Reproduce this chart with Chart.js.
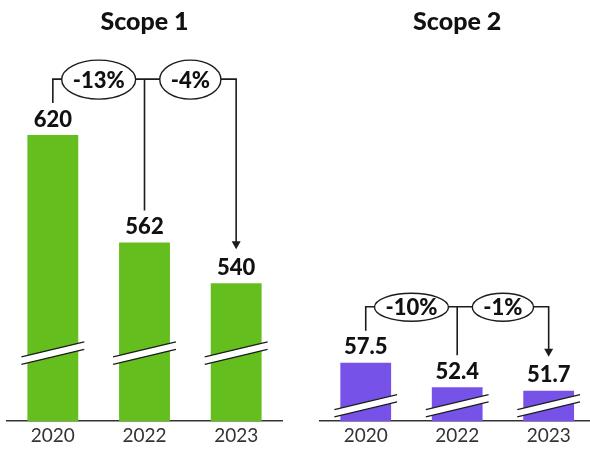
<!DOCTYPE html>
<html>
<head>
<meta charset="utf-8">
<title>Scope 1 / Scope 2</title>
<script src="https://cdn.jsdelivr.net/npm/chart.js@4.4.0/dist/chart.umd.min.js"></script>
<style>
  html, body { margin: 0; padding: 0; background: #fff; width: 590px; height: 450px; overflow: hidden; }
  .panel { position: absolute; top: 0; height: 450px; }
  #scope1Box { left: 0; width: 290px; }
  #scope2Box { left: 290px; width: 310px; }
</style>
</head>
<body>
<div class="panel" id="scope1Box"><canvas id="scope1Chart" width="290" height="450"></canvas></div>
<div class="panel" id="scope2Box"><canvas id="scope2Chart" width="310" height="450"></canvas></div>
<script>
let years = ['2020', '2022', '2023'];
let scope1Values = [620, 562, 540];
let scope2Values = [57.5, 52.4, 51.7];

let fontFamily = 'Lato, "Open Sans", sans-serif';
let inkColor = '#1c1c1c';

Chart.defaults.font.family = fontFamily;

// percent change into the last year, rounded like the callouts
let pctChange = (from, to) => {
  let p = Math.round((to - from) / from * 100);
  return (p > 0 ? '+' : '') + p + '%';
}

/**
 * Draws value labels, the axis break marks on every bar
 * and the bracket with the two % bubbles and the arrow
 */
let barExtras = {
  id: 'barExtras',
  afterDatasetsDraw(chart, args, opts) {

    let ctx = chart.ctx;
    let bars = chart.getDatasetMeta(0).data;
    let values = chart.data.datasets[0].data;
    let yScale = chart.scales.y;

    ctx.save();

    // break marks (white band between two slanted lines)
    let by = yScale.getPixelForValue(opts.breakValue);
    bars.forEach(bar => {
      let half = bar.width / 2 + 6;
      let rise = 7.5;
      let gap = 3.7;
      ctx.beginPath();
      ctx.moveTo(bar.x - half, by + rise - gap);
      ctx.lineTo(bar.x + half, by - rise - gap);
      ctx.lineTo(bar.x + half, by - rise + gap);
      ctx.lineTo(bar.x - half, by + rise + gap);
      ctx.closePath();
      ctx.fillStyle = '#ffffff';
      ctx.fill();

      ctx.beginPath();
      ctx.moveTo(bar.x - half, by + rise - gap);
      ctx.lineTo(bar.x + half, by - rise - gap);
      ctx.moveTo(bar.x - half, by + rise + gap);
      ctx.lineTo(bar.x + half, by - rise + gap);
      ctx.strokeStyle = inkColor;
      ctx.lineWidth = 1.3;
      ctx.stroke();
    });

    // value labels
    ctx.font = '900 22px ' + fontFamily;
    ctx.fillStyle = '#111';
    ctx.textAlign = 'center';
    ctx.textBaseline = 'alphabetic';
    bars.forEach((bar, i) => {
      ctx.fillText(values[i].toString(), bar.x, bar.y - 8.5);
    });

    // bracket
    let lineY = bars[0].y - 56;
    let x0 = bars[0].x, x1 = bars[1].x, x2 = bars[2].x;
    let tipY = bars[2].y - 34;
    let headH = 8, headW = 4.5;

    ctx.strokeStyle = inkColor;
    ctx.lineWidth = 1.6;
    ctx.beginPath();
    ctx.moveTo(x0, bars[0].y - 32);
    ctx.lineTo(x0, lineY);
    ctx.lineTo(x2, lineY);
    ctx.lineTo(x2, tipY - headH + 1);
    ctx.moveTo(x1, lineY);
    ctx.lineTo(x1, bars[1].y - 32);
    ctx.stroke();

    ctx.beginPath();
    ctx.moveTo(x2, tipY);
    ctx.lineTo(x2 - headW, tipY - headH);
    ctx.lineTo(x2 + headW, tipY - headH);
    ctx.closePath();
    ctx.fillStyle = inkColor;
    ctx.fill();

    // % bubbles
    let bubbles = [
      { x: (x0 + x1) / 2, text: pctChange(values[0], values[2]) },
      { x: (x1 + x2) / 2, text: pctChange(values[1], values[2]) }
    ];
    ctx.font = '900 22px ' + fontFamily;
    ctx.textBaseline = 'middle';
    bubbles.forEach(b => {
      let rx = ctx.measureText(b.text).width / 2 + 11;
      ctx.beginPath();
      ctx.ellipse(b.x, lineY + 0.5, rx, opts.bubbleRy, 0, 0, Math.PI * 2);
      ctx.fillStyle = '#ffffff';
      ctx.fill();
      ctx.lineWidth = 1.4;
      ctx.stroke();
      ctx.fillStyle = '#111';
      ctx.fillText(b.text, b.x, lineY + 1.5);
    });

    ctx.restore();
  }
}

let makeChart = (canvasId, title, values, color, yMin, yMax, breakValue, bubbleRy, padLeft, padRight) => {

  return new Chart(document.getElementById(canvasId).getContext('2d'), {
    type: 'bar',
    data: {
      labels: years,
      datasets: [{
        data: values,
        backgroundColor: color,
        borderWidth: 0,
        barPercentage: 0.555,
        categoryPercentage: 1
      }]
    },
    options: {
      responsive: false,
      animation: false,
      layout: { padding: { left: padLeft, right: padRight, top: 0, bottom: 0 } },
      scales: {
        x: {
          grid: { display: false, drawTicks: false },
          border: { display: true, color: '#333', width: 1.5 },
          ticks: { color: '#333', padding: 3, font: { size: 19, lineHeight: 1.2 } }
        },
        y: {
          display: false,
          min: yMin,
          max: yMax
        }
      },
      plugins: {
        legend: { display: false },
        tooltip: { enabled: false },
        title: {
          display: true,
          text: title,
          color: '#111',
          font: { size: 25, weight: 900, lineHeight: 1.2 },
          padding: { top: 7, bottom: 10 }
        },
        barExtras: { breakValue: breakValue, bubbleRy: bubbleRy }
      }
    },
    plugins: [barExtras]
  });
}

makeChart('scope1Chart', 'Scope 1', scope1Values, '#64bf1e', 465.4, 667.6, 502.2, 19.5, 7, 8);
makeChart('scope2Chart', 'Scope 2', scope2Values, '#7752e8', 45.4, 122.8, 48.6, 14, 30, 5.6);
</script>
</body>
</html>
